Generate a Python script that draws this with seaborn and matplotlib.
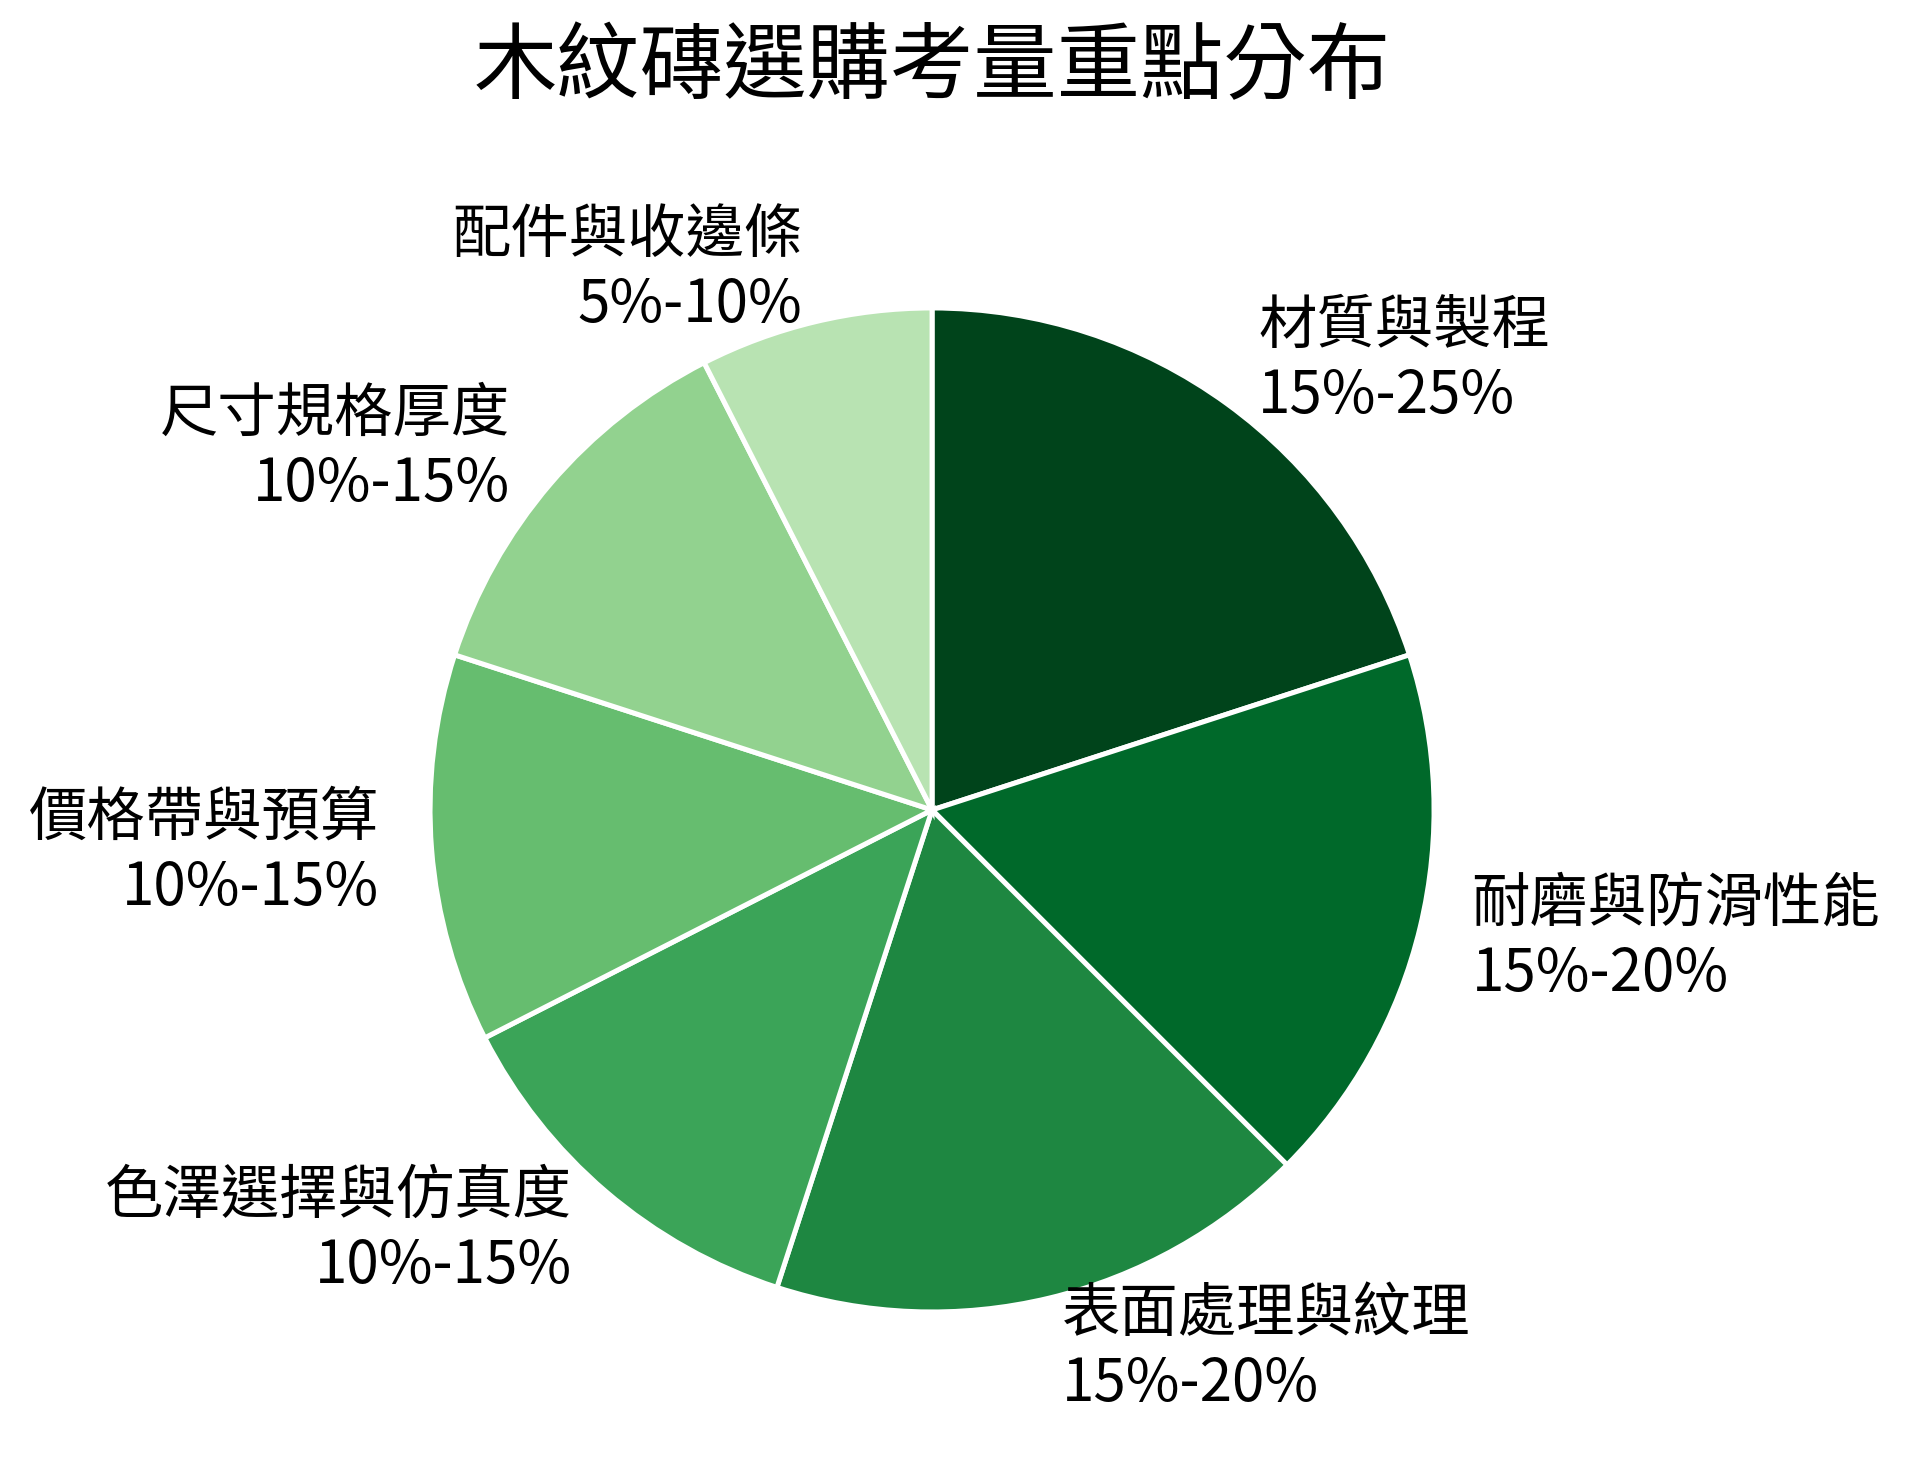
import numpy as np
import matplotlib
matplotlib.use("Agg")
import matplotlib.pyplot as plt
import seaborn as sns

sns.set_theme(style="white")
plt.rcParams['font.family'] = ['Noto Sans CJK TC', 'DejaVu Sans']

# 資料
categories = ['材質與製程', '耐磨與防滑性能', '表面處理與紋理', '色澤選擇與仿真度',
              '價格帶與預算', '尺寸規格厚度', '配件與收邊條']
ranges = ['15%-25%', '15%-20%', '15%-20%', '10%-15%', '10%-15%', '10%-15%', '5%-10%']
shares = [20, 17.5, 17.5, 12.5, 12.5, 12.5, 7.5]  # 各區間中點

colors = plt.cm.Greens(np.linspace(1.0, 0.3, len(shares)))
labels = [f'{c}\n{r}' for c, r in zip(categories, ranges)]

fig = plt.figure(figsize=(9.54, 7.34), dpi=200)
ax = fig.add_axes([0.1596, 0.0208, 0.6578, 0.8549])

ax.pie(shares, labels=labels, colors=colors, startangle=90, counterclock=False,
       labeldistance=1.105, radius=1.0,
       wedgeprops={'edgecolor': 'white', 'linewidth': 1.8},
       textprops={'fontsize': 21, 'color': 'black'})
ax.set_xlim(-1.25, 1.25)
ax.set_ylim(-1.25, 1.25)
ax.set_aspect('equal')

fig.text(0.4885, 0.954, '木紋磚選購考量重點分布', ha='center', va='center',
         fontsize=30, color='black')

fig.savefig('out.png', dpi=200, facecolor='white')
